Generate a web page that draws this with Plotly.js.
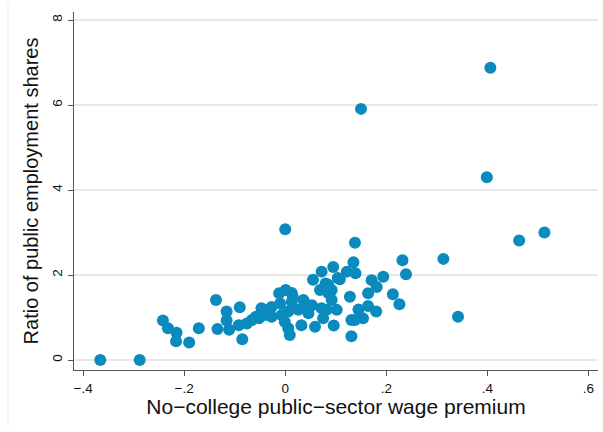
<!DOCTYPE html>
<html>
<head>
<meta charset="utf-8">
<script src="https://cdn.plot.ly/plotly-3.0.1.min.js"></script>
<style>
  html, body { margin: 0; padding: 0; background: #fff; }
  #chart { width: 603px; height: 432px; }
</style>
</head>
<body>
<div id="chart"></div>
<script>
// wage premium (x) vs ratio of public employment shares (y)
const premium = [
  -0.366, -0.288, -0.242, -0.232, -0.215, -0.216, -0.190, -0.171, -0.137, -0.134,
  -0.116, -0.116, -0.111, -0.090, -0.085, -0.092, -0.076, -0.066, -0.058, -0.052,
  -0.047, -0.040, -0.027, -0.027, -0.012, -0.010, -0.007, 0.001, -0.001, 0.000,
  0.006, 0.006, 0.009, 0.013, 0.015, 0.026, 0.032, 0.036, 0.041, 0.046,
  0.053, 0.055, 0.059, 0.069, 0.072, 0.072, 0.075, 0.080, 0.082, 0.086,
  0.095, 0.096, 0.102, 0.092, 0.108, 0.104, 0.122, 0.135, 0.138, 0.139,
  0.128, 0.131, 0.138, 0.131, 0.145, 0.150, 0.154, 0.164, 0.164, 0.171,
  0.180, 0.181, 0.194, 0.213, 0.226, 0.232, 0.239, 0.313, 0.342, 0.399,
  0.406, 0.463, 0.513, 0.085, 0.092, 0.013,
];
const ratio = [
  0.00, 0.00, 0.93, 0.75, 0.64, 0.44, 0.41, 0.75, 1.41, 0.73,
  1.14, 0.93, 0.71, 1.24, 0.49, 0.82, 0.86, 0.94, 1.02, 0.98,
  1.22, 1.06, 1.25, 1.02, 1.57, 1.33, 1.06, 1.65, 0.90, 3.08,
  1.14, 0.75, 0.59, 1.37, 1.49, 1.18, 0.82, 1.41, 1.31, 1.10,
  1.29, 1.89, 0.78, 1.65, 2.08, 1.22, 0.98, 1.80, 1.18, 1.57,
  2.19, 0.81, 1.18, 1.41, 1.90, 1.93, 2.08, 2.30, 2.76, 2.04,
  1.49, 0.94, 0.94, 0.56, 1.19, 5.91, 0.98, 1.57, 1.27, 1.88,
  1.14, 1.72, 1.96, 1.55, 1.31, 2.35, 2.02, 2.38, 1.02, 4.30,
  6.88, 2.81, 3.00, 1.77, 1.65, 1.58,
];
const xTicks = [-0.4, -0.2, 0, 0.2, 0.4, 0.6];
const xTickText = ['\u2212.4', '\u2212.2', '0', '.2', '.4', '.6'];
const yTicks = [0, 2, 4, 6, 8];

const FONT = '"Liberation Sans", Arial, Helvetica, sans-serif';
const DOT = '#0a8bbd';

const trace = {
  x: premium, y: ratio, type: 'scatter', mode: 'markers',
  marker: { color: DOT, size: 12, line: { width: 0 } },
  hoverinfo: 'x+y',
};

const layout = {
  width: 603, height: 432,
  paper_bgcolor: '#fff', plot_bgcolor: '#fff',
  font: { family: FONT, color: '#111', size: 13 },
  margin: { l: 74, r: 5, t: 12, b: 62 }, // Stata 식 축 오프셋
  showlegend: false,
  xaxis: {
    range: [-0.418, 0.619], tickvals: xTicks, ticktext: xTickText,
    showgrid: false, zeroline: false, showline: true, linecolor: '#555', linewidth: 1.3,
    ticks: 'outside', ticklen: 5, tickcolor: '#555', tickfont: { size: 13.5 },
    title: { text: 'No\u2212college public\u2212sector wage premium', font: { size: 21 }, standoff: 2 },
  },
  yaxis: {
    range: [-0.235, 8.19], tickvals: yTicks, tickangle: -90,
    showgrid: true, gridcolor: '#e8e8e8', gridwidth: 1.3,
    zeroline: false, showline: true, linecolor: '#555', linewidth: 1.3,
    ticks: 'outside', ticklen: 5, tickcolor: '#555', tickfont: { size: 13.5 },
    title: { text: 'Ratio of public employment shares', font: { size: 20 }, standoff: 6 },
  },
  shapes: [{ type: 'line', xref: 'paper', yref: 'paper', x0: -0.126, x1: -0.126, y0: -0.16, y1: 1.03,
    line: { color: '#eeeeee', width: 1 } }],
};

Plotly.newPlot('chart', [trace], layout, { displayModeBar: false, staticPlot: true });
</script>
</body>
</html>
